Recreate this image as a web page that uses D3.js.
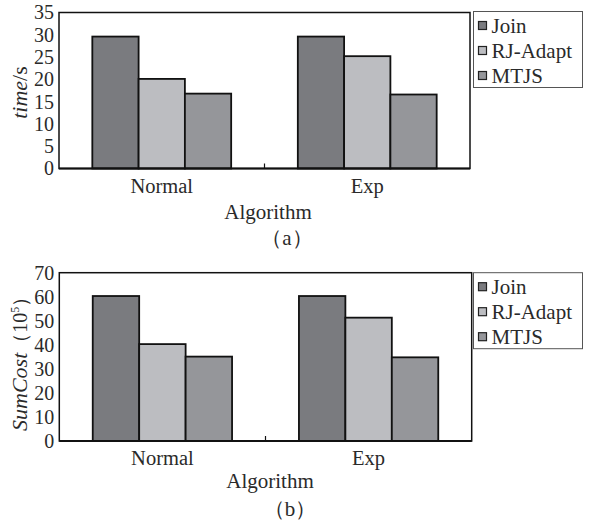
<!DOCTYPE html>
<html>
<head>
<meta charset="utf-8">
<script src="https://cdn.jsdelivr.net/npm/d3@7"></script>
<style>
  body { margin: 0; background: #fff; }
  text { font-family: "Liberation Serif", "DejaVu Serif", serif; fill: #2a2a2a; }
</style>
</head>
<body>
<div id="chart"></div>
<script>
const categories = ["Normal", "Exp"];
const series = ["Join", "RJ-Adapt", "MTJS"];
const colors = ["#7a7b7f", "#bcbdc1", "#95969a"];

// panel (a): time in seconds
const timeJoin = [29.6, 29.6];
const timeRJAdapt = [20.1, 25.2];
const timeMTJS = [16.8, 16.6];
const timeTicks = [0, 5, 10, 15, 20, 25, 30, 35];

// panel (b): SumCost in 10^5
const costJoin = [60.3, 60.3];
const costRJAdapt = [40.3, 51.3];
const costMTJS = [35.1, 34.8];
const costTicks = [0, 10, 20, 30, 40, 50, 60, 70];

const svg = d3.select("#chart")
  .append("svg")
  .attr("width", 589)
  .attr("height", 529);

function drawPanel(p) {
  const rows = categories.map((c, i) => ({
    category: c,
    values: series.map((s, j) => ({ name: s, value: p.values[j][i], color: colors[j] }))
  }));

  const x0 = d3.scaleBand()
    .domain(categories)
    .range([p.left, p.right]);

  const x1 = d3.scaleBand()
    .domain(series)
    .range([0, x0.bandwidth()])
    .paddingOuter(0.72);

  const y = d3.scaleLinear()
    .domain([0, d3.max(p.ticks)])
    .range([p.bottom, p.top]);

  const g = svg.append("g");

  // bars
  g.selectAll(".group")
    .data(rows)
    .enter()
    .append("g")
    .attr("transform", d => `translate(${x0(d.category)},0)`)
    .selectAll("rect")
    .data(d => d.values)
    .enter()
    .append("rect")
    .attr("x", d => x1(d.name))
    .attr("y", d => y(d.value))
    .attr("width", x1.bandwidth())
    .attr("height", d => y(0) - y(d.value))
    .attr("fill", d => d.color)
    .attr("stroke", "#111")
    .attr("stroke-width", 1.8);

  // frame
  g.append("rect")
    .attr("x", p.left)
    .attr("y", p.top)
    .attr("width", p.right - p.left)
    .attr("height", p.bottom - p.top)
    .attr("fill", "none")
    .attr("stroke", "#111")
    .attr("stroke-width", 1.5);

  g.append("line")
    .attr("x1", p.left)
    .attr("x2", p.right)
    .attr("y1", p.bottom)
    .attr("y2", p.bottom)
    .attr("stroke", "#111")
    .attr("stroke-width", 2);

  // separator tick between the groups
  g.append("line")
    .attr("x1", x0("Exp"))
    .attr("x2", x0("Exp"))
    .attr("y1", p.bottom)
    .attr("y2", p.bottom - 5)
    .attr("stroke", "#111")
    .attr("stroke-width", 1.2);

  const yAxis = d3.axisLeft(y).tickValues(p.ticks).tickSize(0).tickPadding(5);
  g.append("g")
    .attr("transform", `translate(${p.left},0)`)
    .call(yAxis)
    .call(a => a.select(".domain").remove())
    .selectAll("text")
    .style("font-family", "'Liberation Serif', serif")
    .style("font-size", "20px")
    .attr("fill", "#333");

  const xAxis = d3.axisBottom(x0).tickSize(0).tickPadding(p.xPad);
  g.append("g")
    .attr("transform", `translate(0,${p.bottom})`)
    .call(xAxis)
    .call(a => a.select(".domain").remove())
    .selectAll("text")
    .style("font-family", "'Liberation Serif', serif")
    .style("font-size", "20.5px")
    .attr("fill", "#333");

  g.append("text")
    .attr("x", p.titleX)
    .attr("y", p.titleY)
    .attr("text-anchor", "middle")
    .style("font-size", "21px")
    .text("Algorithm");

  g.append("text")
    .attr("x", p.capX)
    .attr("y", p.capY)
    .attr("text-anchor", "middle")
    .style("font-size", "21px")
    .text(p.caption);

  // y title
  const yt = g.append("text")
    .attr("transform", `translate(27,${(p.top + p.bottom) / 2 + 2}) rotate(-90)`)
    .attr("text-anchor", "middle")
    .style("font-size", "22px");
  p.yLabel(yt);

  // legend
  const lg = g.append("g").attr("transform", `translate(473.5,${p.legendTop})`);
  lg.append("rect")
    .attr("width", 109)
    .attr("height", 76)
    .attr("fill", "#fff")
    .attr("stroke", "#555")
    .attr("stroke-width", 1);

  const item = lg.selectAll(".item")
    .data(series)
    .enter()
    .append("g")
    .attr("transform", (d, i) => `translate(0,${14 + i * 25})`);

  item.append("rect")
    .attr("x", 5)
    .attr("y", -4)
    .attr("width", 8)
    .attr("height", 8)
    .attr("fill", (d, i) => colors[i])
    .attr("stroke", "#222")
    .attr("stroke-width", 1.2);

  item.append("text")
    .attr("x", 18)
    .attr("y", 7)
    .style("font-size", "21px")
    .text(d => d);
}

drawPanel({
  values: [timeJoin, timeRJAdapt, timeMTJS],
  ticks: timeTicks,
  left: 59, right: 470, top: 12.5, bottom: 168.5,
  xPad: 10,
  titleX: 268, titleY: 219,
  capX: 287, capY: 245, caption: "（a）",
  legendTop: 11.5,
  yLabel: t => {
    t.append("tspan").style("font-style", "italic").text("time");
    t.append("tspan").text("/s");
  }
});

drawPanel({
  values: [costJoin, costRJAdapt, costMTJS],
  ticks: costTicks,
  left: 59.3, right: 471.7, top: 272.7, bottom: 441,
  xPad: 9,
  titleX: 270, titleY: 488,
  capX: 290, capY: 516, caption: "（b）",
  legendTop: 272.7,
  yLabel: t => {
    t.append("tspan").style("font-style", "italic").text("SumCost");
    t.append("tspan").style("font-size", "20px").text("（10");
    t.append("tspan").style("font-size", "12px").attr("dy", "-8").text("5");
    t.append("tspan").style("font-size", "20px").attr("dy", "8").text("）");
  }
});
</script>
</body>
</html>
